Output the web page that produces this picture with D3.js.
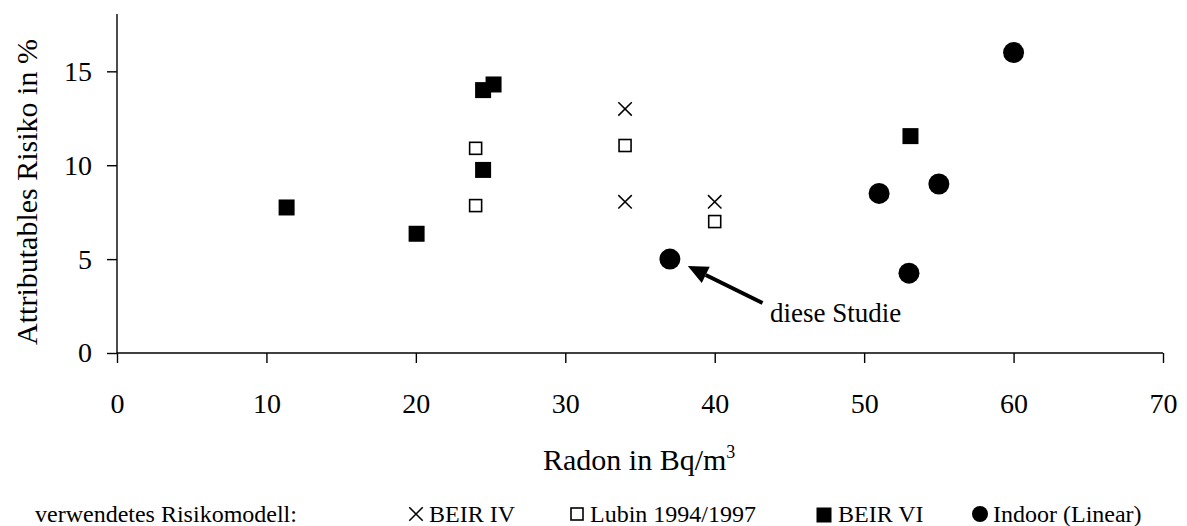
<html>
<head>
<meta charset="utf-8">
<style>
    body { margin: 0; background: #fff; }
    text { font-family: "Liberation Serif", "Times New Roman", serif; fill: #000; }
    .axis path, .axis line { stroke: #000; stroke-width: 1.4; }
</style>
</head>
<body>
<svg id="chart" width="1187" height="526"></svg>
<script src="https://cdn.jsdelivr.net/npm/d3@7"></script>
<script>
// values (Radon Bq/m3, attributable risk %)
let beir4X = [34, 34, 40]
let beir4Y = [13, 8.05, 8.05]
let lubinX = [24, 24, 34, 40]
let lubinY = [10.9, 7.85, 11.05, 7]
let beir6X = [11.35, 20.05, 24.5, 25.2, 24.5, 53.1]
let beir6Y = [7.75, 6.35, 14.0, 14.3, 9.75, 11.55]
let indoorX = [37, 51, 55, 53, 60]
let indoorY = [5, 8.5, 9, 4.25, 16]
let xTicks = [0, 10, 20, 30, 40, 50, 60, 70]
let yTicks = [0, 5, 10, 15]
let legendNames = ["BEIR IV", "Lubin 1994/1997", "BEIR VI", "Indoor (Linear)"]

let svg = d3.select("#chart")
let xScale = d3.scaleLinear().domain([0, 70]).range([117, 1163])
let yScale = d3.scaleLinear().domain([0, 18]).range([353, 15])

// axes
let xAxis = svg.append("g")
    .attr("class", "axis")
    .attr("transform", "translate(0,353)")
    .call(d3.axisBottom(xScale).tickValues(xTicks).tickSizeOuter(0).tickSize(10).tickPadding(30))
xAxis.select(".domain").attr("d", "M117,0H1163")
let yAxis = svg.append("g")
    .attr("class", "axis")
    .attr("transform", "translate(117,0)")
    .call(d3.axisLeft(yScale).tickValues(yTicks).tickSizeOuter(0).tickSize(10).tickPadding(15))
yAxis.select(".domain").attr("d", "M0,353V14")
svg.selectAll(".axis text")
    .style("font-family", '"Liberation Serif", "Times New Roman", serif')
    .style("font-size", "28px")

// axis titles
svg.append("text")
    .attr("transform", "translate(37,192) rotate(-90)")
    .attr("text-anchor", "middle")
    .style("font-size", "30px")
    .text("Attributables Risiko in %")
let xt = svg.append("text")
    .attr("x", 543).attr("y", 470)
    .style("font-size", "30px")
xt.append("tspan").text("Radon in Bq/m")
xt.append("tspan").attr("dy", -12).style("font-size", "18px").text("3")

let pts = (xs, ys) => xs.map((x, i) => ({ x: x, y: ys[i] }))

// BEIR IV crosses
let cross = d3.symbol().type(d3.symbolX).size(120)
svg.append("g").selectAll("path").data(pts(beir4X, beir4Y)).join("path")
    .attr("d", cross)
    .attr("transform", d => `translate(${xScale(d.x)},${yScale(d.y)})`)
    .attr("fill", "none").attr("stroke", "#000").attr("stroke-width", 1.5)

// Lubin open squares
svg.append("g").selectAll("rect").data(pts(lubinX, lubinY)).join("rect")
    .attr("x", d => xScale(d.x) - 6).attr("y", d => yScale(d.y) - 6)
    .attr("width", 12).attr("height", 12)
    .attr("fill", "#fff").attr("stroke", "#000").attr("stroke-width", 1.6)

// BEIR VI filled squares
svg.append("g").selectAll("rect").data(pts(beir6X, beir6Y)).join("rect")
    .attr("x", d => xScale(d.x) - 8).attr("y", d => yScale(d.y) - 8)
    .attr("width", 16).attr("height", 16)
    .attr("fill", "#000")

// Indoor circles
svg.append("g").selectAll("circle").data(pts(indoorX, indoorY)).join("circle")
    .attr("cx", d => xScale(d.x)).attr("cy", d => yScale(d.y))
    .attr("r", 10.5).attr("fill", "#000")

// annotation arrow "diese Studie"
let tail = [xScale(43.2), yScale(2.66)]
let tip = [xScale(38.2), yScale(4.63)]
let ang = Math.atan2(tip[1] - tail[1], tip[0] - tail[0])
let headLen = 20, headW = 9
let base = [tip[0] - headLen * Math.cos(ang), tip[1] - headLen * Math.sin(ang)]
svg.append("line")
    .attr("x1", tail[0]).attr("y1", tail[1])
    .attr("x2", base[0]).attr("y2", base[1])
    .attr("stroke", "#000").attr("stroke-width", 4)
svg.append("path")
    .attr("d", d3.line()([
        tip,
        [base[0] + headW * Math.sin(ang), base[1] - headW * Math.cos(ang)],
        [base[0] - headW * Math.sin(ang), base[1] + headW * Math.cos(ang)]
    ]) + "Z")
    .attr("fill", "#000")
svg.append("text")
    .attr("x", xScale(43.7)).attr("y", yScale(1.65))
    .style("font-size", "27px")
    .text("diese Studie")

// legend
let ly = 522, my = 514
svg.append("text").attr("x", 35).attr("y", ly).style("font-size", "24px").text("verwendetes Risikomodell:")
let legendX = [416, 577, 824, 980]
let legendTextX = [429, 590, 838, 993]
svg.append("path").attr("d", cross).attr("transform", `translate(${legendX[0]},${my})`)
    .attr("fill", "none").attr("stroke", "#000").attr("stroke-width", 1.5)
svg.append("rect").attr("x", legendX[1] - 6).attr("y", my - 6).attr("width", 12).attr("height", 12)
    .attr("fill", "#fff").attr("stroke", "#000").attr("stroke-width", 1.6)
svg.append("rect").attr("x", legendX[2] - 7.5).attr("y", my - 6.5).attr("width", 15).attr("height", 15)
    .attr("fill", "#000")
svg.append("circle").attr("cx", legendX[3]).attr("cy", my).attr("r", 8).attr("fill", "#000")
legendNames.forEach((n, i) => {
    svg.append("text").attr("x", legendTextX[i]).attr("y", ly).style("font-size", "24px").text(n)
})
</script>
</body>
</html>
